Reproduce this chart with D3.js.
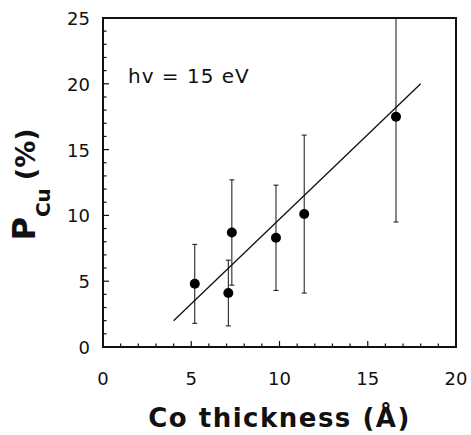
<!DOCTYPE html>
<html lang="en">
<head>
    <meta charset="utf-8"/>
    <title>P Cu vs Co thickness</title>
    <script src="https://d3js.org/d3.v7.min.js"></script>
    <style>
        body { margin: 0; background: #fff; }
        text { font-family: "DejaVu Sans", sans-serif; fill: #111; }
    </style>
</head>
<body>
<svg id="chart" width="471" height="435"></svg>

<script>
    // valores
    const thickness = [5.2, 7.1, 7.3, 9.8, 11.4, 16.6];
    const pCu = [4.8, 4.1, 8.7, 8.3, 10.1, 17.5];
    const errLow = [1.8, 1.6, 4.7, 4.3, 4.1, 9.5];
    const errHigh = [7.8, 6.6, 12.7, 12.3, 16.1, 25.5];

    // recta de ajuste
    const fitX = [4, 18];
    const fitY = [2, 20];

    const xTicks = [0, 5, 10, 15, 20];
    const yTicks = [0, 5, 10, 15, 20, 25];

    const svg = d3.select("#chart");

    const x = d3.scaleLinear().domain([0, 20]).range([103, 456]);
    const y = d3.scaleLinear().domain([0, 25]).range([347, 18]);

    // clip para que la barra de error no salga del marco
    svg.append("clipPath").attr("id", "plotClip")
        .append("rect")
        .attr("x", x(0)).attr("y", y(25))
        .attr("width", x(20) - x(0)).attr("height", y(0) - y(25));

    // ticks menores y mayores hacia adentro
    const xMinor = d3.range(0, 21, 1);
    const yMinor = d3.range(0, 26, 1);

    svg.append("g").attr("transform", `translate(0,${y(0)})`)
        .selectAll("line").data(xMinor).enter().append("line")
        .attr("x1", d => x(d)).attr("x2", d => x(d))
        .attr("y1", 0).attr("y2", d => d % 5 === 0 ? -6 : -3.5)
        .attr("stroke", "#111").attr("stroke-width", 1.2);

    svg.append("g").attr("transform", `translate(${x(0)},0)`)
        .selectAll("line").data(yMinor).enter().append("line")
        .attr("y1", d => y(d)).attr("y2", d => y(d))
        .attr("x1", 0).attr("x2", d => d % 5 === 0 ? 6 : 3.5)
        .attr("stroke", "#111").attr("stroke-width", 1.2);

    // etiquetas de ticks
    svg.append("g").selectAll("text")
        .data(xTicks).enter().append("text")
        .attr("x", d => x(d))
        .attr("y", 385)
        .attr("text-anchor", "middle")
        .style("font-size", "18px")
        .text(d => d);

    svg.append("g").selectAll("text")
        .data(yTicks).enter().append("text")
        .attr("x", 90)
        .attr("y", d => y(d) + 7)
        .attr("text-anchor", "end")
        .style("font-size", "18px")
        .text(d => d);

    const plot = svg.append("g").attr("clip-path", "url(#plotClip)");

    // recta de ajuste
    plot.append("line")
        .attr("x1", x(fitX[0])).attr("y1", y(fitY[0]))
        .attr("x2", x(fitX[1])).attr("y2", y(fitY[1]))
        .attr("stroke", "#111").attr("stroke-width", 1.3);

    const idx = d3.range(thickness.length);

    // barras de error
    plot.selectAll("line.err")
        .data(idx).enter().append("line")
        .attr("class", "err")
        .attr("x1", i => x(thickness[i])).attr("x2", i => x(thickness[i]))
        .attr("y1", i => y(errLow[i])).attr("y2", i => y(errHigh[i]))
        .attr("stroke", "#111").attr("stroke-width", 1);

    plot.selectAll("line.capLow")
        .data(idx).enter().append("line")
        .attr("class", "capLow")
        .attr("x1", i => x(thickness[i]) - 2.5).attr("x2", i => x(thickness[i]) + 2.5)
        .attr("y1", i => y(errLow[i])).attr("y2", i => y(errLow[i]))
        .attr("stroke", "#111").attr("stroke-width", 1);

    plot.selectAll("line.capHigh")
        .data(idx).enter().append("line")
        .attr("class", "capHigh")
        .attr("x1", i => x(thickness[i]) - 2.5).attr("x2", i => x(thickness[i]) + 2.5)
        .attr("y1", i => y(errHigh[i])).attr("y2", i => y(errHigh[i]))
        .attr("stroke", "#111").attr("stroke-width", 1);

    // puntos
    plot.selectAll("circle")
        .data(idx).enter().append("circle")
        .attr("cx", i => x(thickness[i]))
        .attr("cy", i => y(pCu[i]))
        .attr("r", 5)
        .attr("fill", "#000");

    // marco
    svg.append("rect")
        .attr("x", x(0)).attr("y", y(25))
        .attr("width", x(20) - x(0)).attr("height", y(0) - y(25))
        .attr("fill", "none").attr("stroke", "#111").attr("stroke-width", 2);

    // anotacion
    svg.append("text")
        .attr("x", 128).attr("y", 83)
        .style("font-size", "20px")
        .style("letter-spacing", "1px")
        .text("hv = 15 eV");

    // titulo eje x
    svg.append("text")
        .attr("x", (x(0) + x(20)) / 2)
        .attr("y", 427)
        .attr("text-anchor", "middle")
        .style("font-size", "26px")
        .style("font-weight", "bold")
        .style("letter-spacing", "1.5px")
        .text("Co thickness (Å)");

    // titulo eje y
    const yTitle = svg.append("text")
        .attr("transform", `translate(35,${(y(0) + y(25)) / 2 + 2}) rotate(-90)`)
        .attr("text-anchor", "middle")
        .style("font-weight", "bold");
    yTitle.append("tspan").style("font-size", "32px").text("P");
    yTitle.append("tspan").style("font-size", "20px").attr("dy", 15).text("Cu");
    yTitle.append("tspan").style("font-size", "27px").attr("dy", -15).attr("dx", 8).text("(%)");
</script>
</body>
</html>
